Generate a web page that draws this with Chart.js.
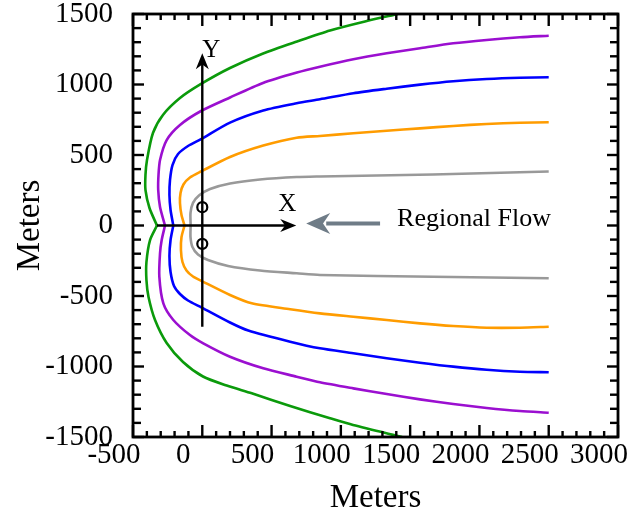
<!DOCTYPE html>
<html><head><meta charset="utf-8">
<script src="https://cdn.jsdelivr.net/npm/chart.js@4.4.1/dist/chart.umd.min.js"></script>
<style>html,body{margin:0;padding:0;background:#fff}</style>
</head><body>
<canvas id="c" width="638" height="520"></canvas>
<script>
// ---- data (meters) ----
const xTicks = [-500, 0, 500, 1000, 1500, 2000, 2500, 3000];
const yTicks = [-1500, -1000, -500, 0, 500, 1000, 1500];

const greenUpper  = [[-327,0],[-381,124],[-410,252],[-410,358],[-399,465],[-356,656],[-284,784],[-161,904],[-9,1004],[200,1117],[439,1220],[684,1305],[922,1383],[1174,1447],[1412,1500]];
const greenLower  = [[-327,0],[-377,-103],[-403,-259],[-403,-387],[-388,-507],[-341,-670],[-257,-833],[-139,-968],[5,-1071],[176,-1135],[357,-1190],[634,-1280],[922,-1367],[1088,-1415],[1442,-1500]];
const purpleUpper = [[-269,0],[-305,131],[-318,252],[-316,358],[-305,465],[-257,606],[-161,713],[-9,812],[200,908],[438,1011],[683,1085],[849,1126],[1090,1179],[1331,1221],[1571,1257],[1811,1292],[2052,1316],[2292,1335],[2500,1346]];
const purpleLower = [[-269,0],[-293,-103],[-305,-197],[-310,-363],[-281,-552],[-209,-670],[-89,-777],[7,-836],[200,-931],[440,-1013],[681,-1072],[849,-1112],[1090,-1155],[1331,-1195],[1571,-1233],[1811,-1266],[2052,-1294],[2292,-1316],[2500,-1328]];
const blueUpper   = [[-209,0],[-229,110],[-237,216],[-233,323],[-215,429],[-175,507],[-103,564],[-9,613],[200,730],[440,816],[681,867],[849,895],[1090,938],[1331,970],[1571,999],[1811,1023],[2052,1039],[2292,1048],[2500,1051]];
const blueLower   = [[-209,0],[-229,-103],[-237,-216],[-229,-330],[-204,-429],[-161,-486],[-103,-532],[-4,-582],[200,-688],[332,-745],[634,-824],[849,-871],[1090,-906],[1331,-942],[1571,-973],[1811,-1001],[2052,-1023],[2292,-1037],[2500,-1041]];
const orangeUpper = [[-128,0],[-150,74],[-161,160],[-157,230],[-136,291],[-89,340],[-9,383],[200,486],[440,567],[681,623],[849,635],[1090,654],[1331,672],[1571,689],[1811,706],[2052,720],[2292,729],[2500,732]];
const orangeLower = [[-128,0],[-150,-82],[-154,-174],[-143,-259],[-114,-319],[-67,-362],[-4,-394],[200,-493],[357,-552],[634,-594],[849,-623],[1090,-647],[1331,-670],[1571,-694],[1811,-713],[2052,-725],[2292,-725],[2500,-718]];
const grayUpper   = [[-84,0],[-85,89],[-67,160],[-24,213],[56,259],[200,298],[416,326],[681,344],[849,348],[1665,362],[2500,383]];
const grayLower   = [[-84,0],[-85,-82],[-71,-152],[-31,-206],[41,-245],[186,-287],[416,-319],[681,-339],[849,-351],[1665,-363],[2500,-374]];

const wells      = [[0,130],[0,-130]];
const yAxisArrow = [[0,-718],[0,1221]];
const xAxisArrow = [[-327,0],[678,0]];
const flowArrow  = [[1283,15],[750,15]];
const noteTexts  = [["Y",65,1245],["X",613,152],["Regional Flow",1961,46]];

// ---- styles ----
const SERIF = '"Liberation Serif", "Times New Roman", serif';
const curves = [
  [greenUpper,'#0b9a0b'],[greenLower,'#0b9a0b'],
  [purpleUpper,'#9b0fd0'],[purpleLower,'#9b0fd0'],
  [blueUpper,'#0000ff'],[blueLower,'#0000ff'],
  [orangeUpper,'#ff9c00'],[orangeLower,'#ff9c00'],
  [grayUpper,'#999999'],[grayLower,'#999999']
];
const toPts = a => a.map(([x,y]) => ({x, y}));

const datasets = curves.map(([d,c]) => ({
  data: toPts(d), borderColor: c, borderWidth: 2.6, showLine: true,
  pointRadius: 0, tension: 0.25, fill: false
}));
datasets.push({
  data: toPts(wells), showLine: false, pointRadius: 5, pointStyle: 'circle',
  pointBorderColor: '#000', pointBackgroundColor: 'rgba(0,0,0,0)', pointBorderWidth: 2.2
});

function arrowHead(ctx, x0, y0, x1, y1, L, W, color) {
  const ang = Math.atan2(y1 - y0, x1 - x0);
  ctx.save();
  ctx.translate(x1, y1); ctx.rotate(ang);
  ctx.beginPath();
  ctx.moveTo(0, 0); ctx.lineTo(-L, -W); ctx.lineTo(-0.7 * L, 0); ctx.lineTo(-L, W);
  ctx.closePath(); ctx.fillStyle = color; ctx.fill();
  ctx.restore();
}

const annot = {
  id: 'annot',
  afterDatasetsDraw(chart) {
    const {ctx, chartArea: a, scales: {x, y}} = chart;
    const P = ([vx, vy]) => [x.getPixelForValue(vx), y.getPixelForValue(vy)];
    ctx.save();
    ctx.strokeStyle = '#000'; ctx.lineWidth = 2.4; ctx.lineCap = 'butt';
    const seg = (x0,y0,x1,y1) => { ctx.beginPath(); ctx.moveTo(x0,y0); ctx.lineTo(x1,y1); ctx.stroke(); };
    for (let v = xTicks[0]; v <= xTicks[xTicks.length-1]; v += 100) {
      const px = x.getPixelForValue(v), L = (v % 500 === 0) ? 12 : 6;
      seg(px, a.bottom, px, a.bottom - L); seg(px, a.top, px, a.top + L);
    }
    for (let v = yTicks[0]; v <= yTicks[yTicks.length-1]; v += 100) {
      const py = y.getPixelForValue(v), L = (v % 500 === 0) ? 11 : 8;
      seg(a.left, py, a.left + L, py); seg(a.right, py, a.right - L, py);
    }
    ctx.lineWidth = 2.8;
    ctx.strokeRect(a.left, a.top, a.right - a.left, a.bottom - a.top);

    ctx.lineWidth = 2.4;
    for (const arr of [yAxisArrow, xAxisArrow]) {
      const [p0, p1] = arr.map(P);
      seg(p0[0], p0[1], p1[0] - Math.sign(p1[0]-p0[0])*8, p1[1] - Math.sign(p1[1]-p0[1])*8);
      arrowHead(ctx, p0[0], p0[1], p1[0], p1[1], 16, 6.5, '#000');
    }
    {
      const [p0, p1] = flowArrow.map(P);
      ctx.strokeStyle = '#6f7c87'; ctx.lineWidth = 4;
      seg(p0[0], p0[1], p1[0] + 20, p1[1]);
      arrowHead(ctx, p0[0], p0[1], p1[0], p1[1], 24, 10.5, '#6f7c87');
    }
    ctx.fillStyle = '#000'; ctx.textAlign = 'center'; ctx.textBaseline = 'middle';
    for (const [t, vx, vy] of noteTexts) {
      ctx.font = (t.length > 1 ? 26 : 25) + 'px ' + SERIF;
      const [px, py] = P([vx, vy]);
      ctx.fillText(t, px, py);
    }
    ctx.restore();
  }
};

const tickFont = {family: SERIF, size: 29};
const titleFont = {family: SERIF, size: 33};

new Chart(document.getElementById('c'), {
  type: 'scatter',
  data: {datasets},
  plugins: [annot],
  options: {
    responsive: false, animation: false, devicePixelRatio: 1,
    layout: {padding: {top: 14, right: 20, left: 0, bottom: 0}},
    plugins: {legend: {display: false}, tooltip: {enabled: false}},
    scales: {
      x: {
        type: 'linear', min: xTicks[0], max: xTicks[xTicks.length-1],
        afterBuildTicks: s => { s.ticks = xTicks.map(v => ({value: v})); },
        afterFit: s => { s.height = 83; s.paddingLeft = 0; s.paddingRight = 0; },
        grid: {display: false, drawTicks: false}, border: {display: false},
        ticks: {font: tickFont, color: '#000', padding: 1, labelOffset: -19, autoSkip: false, maxRotation: 0,
                callback: v => String(v)},
        title: {display: true, text: 'Meters', font: titleFont, color: '#000', padding: {top: 0, bottom: 2}}
      },
      y: {
        type: 'linear', min: yTicks[0], max: yTicks[yTicks.length-1],
        afterBuildTicks: s => { s.ticks = yTicks.map(v => ({value: v})); },
        afterFit: s => { s.width = 133; s.paddingTop = 0; s.paddingBottom = 0; },
        grid: {display: false, drawTicks: false}, border: {display: false},
        ticks: {font: tickFont, color: '#000', padding: 20, autoSkip: false, callback: v => String(v)},
        title: {display: true, text: 'Meters', font: titleFont, color: '#000', padding: {top: 11, bottom: 0}}
      }
    }
  }
});
</script>
</body></html>
